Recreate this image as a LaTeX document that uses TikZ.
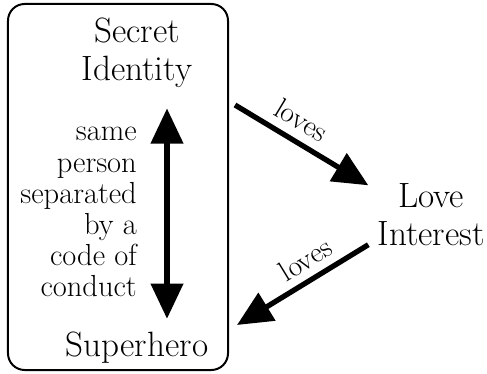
\documentclass[tikz,border=0pt]{standalone}
\usetikzlibrary{arrows.meta, positioning}
\begin{document}
\begin{tikzpicture}[x=0.03cm, y=0.03cm,
  >={Triangle[length=30pt,width=27pt]},
  big/.style={font=\fontsize{30}{32.5}\selectfont, align=center},
  side/.style={font=\fontsize{26}{26.5}\selectfont, align=right, inner sep=0pt},
  tag/.style={font=\fontsize{25}{26}\selectfont},
  link/.style={line width=4.5pt, ->}]
\useasboundingbox (0,0) rectangle (487,374);
% the card holding both identities
\node[draw, line width=1.7pt, rounded corners=0.5cm, minimum width=6.6cm, minimum height=10.98cm] (card) at (118,187) {};
\node[big] (secret) at (137,321) {Secret\\Identity};
\node[big] (hero) at (137,26) {Superhero};
\node[side, anchor=east] (note) at (137,162) {same\\person\\separated\\by a\\code of\\conduct};
\node[big] (love) at (431,159) {Love\\Interest};

% same person
\draw[link, <->, shorten <=14pt, shorten >=8pt] ([xshift=0.9cm]secret.south) -- ([xshift=0.9cm]hero.north);

% loves
\coordinate (from) at (235,269);
\coordinate (to) at (237,49);
\draw[link, shorten >=5pt] (from) -- ([yshift=0.8cm]love.west) node[tag, pos=0.4, sloped, above=4pt] {loves};
\draw[link, shorten <=5pt] ([yshift=-0.8cm]love.west) -- (to) node[tag, pos=0.42, sloped, above=3pt] {loves};
\end{tikzpicture}
\end{document}
